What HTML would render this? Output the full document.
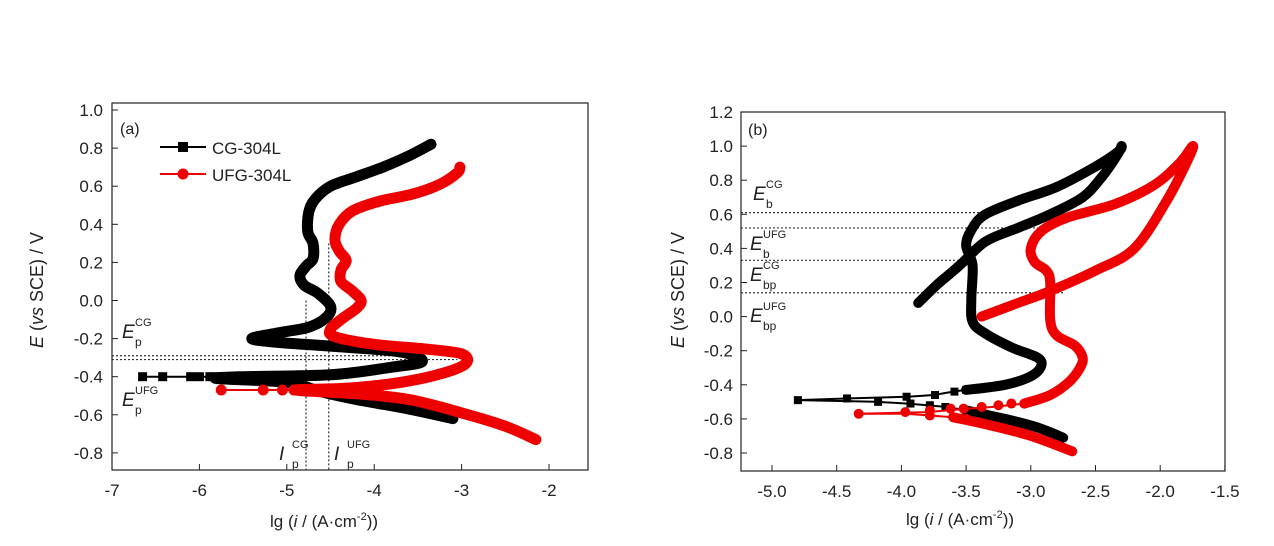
<!DOCTYPE html>
<html><head><meta charset="utf-8">
<style>
html,body{margin:0;padding:0;background:#fff;}
svg{display:block;font-family:"Liberation Sans",Arial,sans-serif;}
</style></head>
<body>
<svg id="s" width="1274" height="546" viewBox="0 0 1274 546" xmlns="http://www.w3.org/2000/svg">
<rect width="1274" height="546" fill="#fff"/>
</svg>
<script>
const NS="http://www.w3.org/2000/svg";
const S=document.getElementById('s');
function el(t,a,txt){const e=document.createElementNS(NS,t);for(const k in a)e.setAttribute(k,a[k]);if(txt!==undefined)e.textContent=txt;S.appendChild(e);return e;}
const A={x:v=>112+87.4*(v+7), y:E=>110+(1.0-E)*190.5};
const B={x:v=>772+129.4*(v+5), y:E=>112+(1.2-E)*170.5};
function path(M,pts,col,w,smooth){
  const P=pts.map(p=>[M.x(p[0]),M.y(p[1])]);
  let d='M'+P[0][0].toFixed(1)+','+P[0][1].toFixed(1);
  if(smooth){
    for(let i=0;i<P.length-1;i++){
      const p0=P[i-1]||P[i],p1=P[i],p2=P[i+1],p3=P[i+2]||P[i+1];
      const c1=[p1[0]+(p2[0]-p0[0])/6,p1[1]+(p2[1]-p0[1])/6];
      const c2=[p2[0]-(p3[0]-p1[0])/6,p2[1]-(p3[1]-p1[1])/6];
      d+='C'+c1.map(v=>v.toFixed(1)).join(',')+' '+c2.map(v=>v.toFixed(1)).join(',')+' '+p2[0].toFixed(1)+','+p2[1].toFixed(1);
    }
  } else for(let i=1;i<P.length;i++)d+='L'+P[i][0].toFixed(1)+','+P[i][1].toFixed(1);
  el('path',{d:d,fill:'none',stroke:col,'stroke-width':w,'stroke-linejoin':'round','stroke-linecap':'round'});
}
function sq(M,pts,col,s){pts.forEach(p=>el('rect',{x:M.x(p[0])-s/2,y:M.y(p[1])-s/2,width:s,height:s,fill:col}));}
function ci(M,pts,col,r){pts.forEach(p=>el('circle',{cx:M.x(p[0]),cy:M.y(p[1]),r:r,fill:col}));}
function dline(x1,y1,x2,y2){el('line',{x1:x1,y1:y1,x2:x2,y2:y2,stroke:'#333','stroke-width':1.2,'stroke-dasharray':'2,2'});}

// ---------- Panel A ----------
el('rect',{x:112,y:103,width:476,height:367,fill:'none',stroke:'#222','stroke-width':1.2});
dline(112,A.y(-0.29),A.x(-3.45),A.y(-0.29));
dline(112,A.y(-0.31),A.x(-3.05),A.y(-0.31));
dline(A.x(-4.78),A.y(0.0),A.x(-4.78),470);
dline(A.x(-4.52),A.y(0.3),A.x(-4.52),470);
const cgA=[[-3.1,-0.62],[-3.6,-0.57],[-4.2,-0.52],[-4.6,-0.48],[-5.0,-0.43],[-5.8,-0.41],
[-5.5,-0.40],[-4.5,-0.39],[-3.8,-0.35],[-3.45,-0.32],[-3.7,-0.27],[-4.5,-0.24],[-5.1,-0.22],[-5.4,-0.2],[-5.1,-0.17],[-4.75,-0.14],[-4.55,-0.09],[-4.5,-0.03],[-4.65,0.04],[-4.8,0.08],[-4.85,0.13],[-4.78,0.18],[-4.7,0.22],[-4.7,0.3],[-4.76,0.36],[-4.75,0.46],[-4.68,0.53],[-4.5,0.6],[-4.2,0.65],[-3.9,0.7],[-3.6,0.76],[-3.35,0.82]];
path(A,cgA,'#000',11,true);
path(A,[[-6.65,-0.4],[-5.8,-0.4]],'#000',2);
sq(A,[[-6.65,-0.4],[-6.42,-0.4],[-6.1,-0.4],[-6.0,-0.4],[-5.88,-0.4],[-5.8,-0.4]],'#000',9);
const ufA=[[-2.15,-0.73],[-2.5,-0.66],[-3.0,-0.59],[-3.6,-0.52],[-4.2,-0.49],[-4.9,-0.47],
[-4.3,-0.46],[-3.7,-0.43],[-3.2,-0.38],[-2.95,-0.33],[-3.0,-0.28],[-3.4,-0.255],[-4.0,-0.23],[-4.45,-0.19],[-4.5,-0.15],[-4.35,-0.09],[-4.2,-0.04],[-4.15,0.0],[-4.25,0.05],[-4.38,0.1],[-4.38,0.16],[-4.32,0.21],[-4.4,0.26],[-4.45,0.32],[-4.4,0.4],[-4.25,0.47],[-3.95,0.52],[-3.55,0.56],[-3.25,0.61],[-3.05,0.67],[-3.02,0.7]];
path(A,ufA,'#e00',11,true);
path(A,[[-5.75,-0.47],[-4.9,-0.47]],'#e00',2);
ci(A,[[-5.75,-0.47],[-5.27,-0.47],[-5.05,-0.47],[-4.92,-0.47]],'#e00',5.5);
[-0.8,-0.6,-0.4,-0.2,0,0.2,0.4,0.6,0.8,1.0].forEach(E=>{const y=A.y(E);el('line',{x1:112,y1:y,x2:118,y2:y,stroke:'#222'});el('text',{x:103,y:y+6,'font-size':17,'text-anchor':'end',fill:'#222'},E.toFixed(1));});
[-7,-6,-5,-4,-3,-2].forEach(v=>{const x=A.x(v);el('line',{x1:x,y1:470,x2:x,y2:464,stroke:'#222'});el('text',{x:x,y:496,'font-size':17,'text-anchor':'middle',fill:'#222'},v);});
el('text',{x:120,y:134,'font-size':16,fill:'#222'},'(a)');
el('line',{x1:160,y1:147,x2:206,y2:147,stroke:'#000','stroke-width':2});el('rect',{x:178,y:142,width:10,height:10,fill:'#000'});
el('text',{x:212,y:154,'font-size':17,fill:'#222'},'CG-304L');
el('line',{x1:160,y1:174,x2:206,y2:174,stroke:'#e00','stroke-width':2});el('circle',{cx:183,cy:174,r:5.5,fill:'#e00'});
el('text',{x:212,y:181,'font-size':17,fill:'#222'},'UFG-304L');
function lab(x,y,main,sup,sub,fs){el('text',{x:x,y:y,'font-size':fs||19,'font-style':'italic',fill:'#222'},main);el('text',{x:x+13,y:y-12,'font-size':11,fill:'#222'},sup);el('text',{x:x+13,y:y+8,'font-size':12,fill:'#222'},sub);}
lab(122,338,'E','CG','p');
lab(122,406,'E','UFG','p');
lab(279,460,'I','CG','p');
lab(334,460,'I','UFG','p');
const tx=el('text',{x:270,y:527,'font-size':17,fill:'#222'});
tx.innerHTML='lg (<tspan font-style="italic">i</tspan> / (A·cm<tspan dy="-7" font-size="11">-2</tspan><tspan dy="7">))</tspan>';
const yl=el('text',{transform:'translate(43,290) rotate(-90)','font-size':18,'text-anchor':'middle',fill:'#222'});
yl.innerHTML='<tspan font-style="italic">E</tspan> (<tspan font-style="italic">vs</tspan> SCE) / V';

// ---------- Panel B ----------
el('rect',{x:741,y:112,width:484,height:359,fill:'none',stroke:'#222','stroke-width':1.2});
dline(741,B.y(0.61),B.x(-3.38),B.y(0.61));
dline(741,B.y(0.52),B.x(-2.88),B.y(0.52));
dline(741,B.y(0.33),B.x(-3.42),B.y(0.33));
dline(741,B.y(0.14),B.x(-2.75),B.y(0.14));
const cgB1=[[-3.5,-0.43],[-3.2,-0.4],[-3.0,-0.35],[-2.92,-0.29],[-2.95,-0.24],[-3.15,-0.18],[-3.35,-0.1],[-3.45,-0.03],[-3.46,0.1],[-3.45,0.3],[-3.5,0.42],[-3.45,0.52],[-3.35,0.6],[-3.1,0.68],[-2.8,0.76],[-2.5,0.88],[-2.32,0.97],[-2.3,1.0],[-2.33,0.95],[-2.45,0.82],[-2.6,0.7],[-2.85,0.6],[-3.1,0.52],[-3.35,0.44],[-3.55,0.3],[-3.72,0.19],[-3.87,0.08]];
path(B,cgB1,'#000',10,true);
path(B,[[-3.5,-0.55],[-3.2,-0.6],[-2.95,-0.65],[-2.75,-0.71]],'#000',10,true);
path(B,[[-4.8,-0.49],[-4.4,-0.48],[-3.95,-0.47],[-3.75,-0.46],[-3.6,-0.44],[-3.5,-0.43]],'#000',2);
path(B,[[-4.8,-0.49],[-4.2,-0.5],[-3.95,-0.51],[-3.8,-0.52],[-3.65,-0.53],[-3.5,-0.55]],'#000',2);
sq(B,[[-4.8,-0.49],[-4.42,-0.48],[-3.96,-0.47],[-3.74,-0.46],[-3.59,-0.44],[-3.5,-0.43],[-4.18,-0.5],[-3.93,-0.51],[-3.78,-0.52],[-3.66,-0.53],[-3.5,-0.55]],'#000',8);
const ufB=[[-3.05,-0.51],[-2.85,-0.46],[-2.7,-0.38],[-2.62,-0.3],[-2.6,-0.24],[-2.66,-0.17],[-2.8,-0.11],[-2.85,-0.02],[-2.85,0.2],[-2.88,0.27],[-2.97,0.32],[-3.0,0.4],[-2.92,0.5],[-2.72,0.58],[-2.35,0.66],[-2.05,0.77],[-1.85,0.9],[-1.75,1.0],[-1.78,0.93],[-1.95,0.68],[-2.2,0.4],[-2.5,0.27],[-2.85,0.15],[-3.1,0.08],[-3.38,0.0]];
path(B,ufB,'#e00',10,true);
path(B,[[-3.6,-0.59],[-3.3,-0.64],[-3.0,-0.7],[-2.68,-0.79]],'#e00',10,true);
path(B,[[-4.33,-0.57],[-3.8,-0.56],[-3.5,-0.54],[-3.3,-0.53],[-3.05,-0.51]],'#e00',2);
path(B,[[-4.33,-0.57],[-3.97,-0.57],[-3.78,-0.58],[-3.6,-0.59]],'#e00',2);
ci(B,[[-4.33,-0.57],[-3.97,-0.56],[-3.78,-0.55],[-3.62,-0.54],[-3.52,-0.54],[-3.38,-0.53],[-3.25,-0.52],[-3.15,-0.51],[-3.05,-0.51],[-3.78,-0.58],[-3.6,-0.59],[-3.5,-0.6],[-3.4,-0.62]],'#e00',5);
[-0.8,-0.6,-0.4,-0.2,0,0.2,0.4,0.6,0.8,1.0,1.2].forEach(E=>{const y=B.y(E);el('line',{x1:741,y1:y,x2:747,y2:y,stroke:'#222'});el('text',{x:733,y:y+6,'font-size':17,'text-anchor':'end',fill:'#222'},E.toFixed(1));});
[-5,-4.5,-4,-3.5,-3,-2.5,-2,-1.5].forEach(v=>{const x=B.x(v);el('line',{x1:x,y1:471,x2:x,y2:465,stroke:'#222'});el('text',{x:x,y:497,'font-size':17,'text-anchor':'middle',fill:'#222'},v.toFixed(1));});
el('text',{x:748,y:135,'font-size':16,fill:'#222'},'(b)');
lab(753,200,'E','CG','b');
lab(750,250,'E','UFG','b');
lab(750,281,'E','CG','bp');
lab(750,322,'E','UFG','bp');
const tx2=el('text',{x:906,y:525,'font-size':17,fill:'#222'});
tx2.innerHTML='lg (<tspan font-style="italic">i</tspan> / (A·cm<tspan dy="-7" font-size="11">-2</tspan><tspan dy="7">))</tspan>';
const yl2=el('text',{transform:'translate(684,290) rotate(-90)','font-size':18,'text-anchor':'middle',fill:'#222'});
yl2.innerHTML='<tspan font-style="italic">E</tspan> (<tspan font-style="italic">vs</tspan> SCE) / V';
</script>
</body></html>
